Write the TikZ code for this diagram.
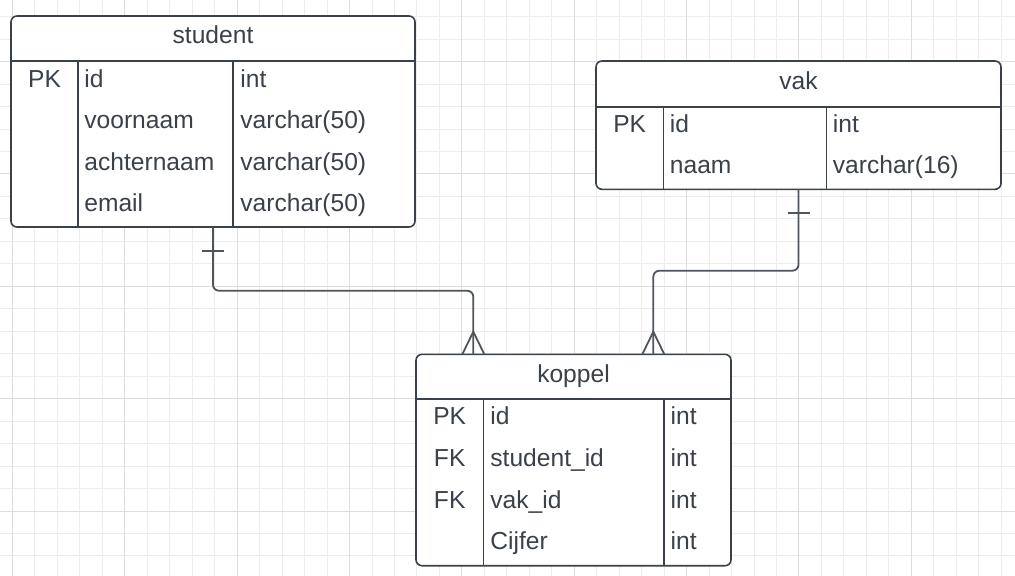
\documentclass[tikz,border=0pt]{standalone}
\usepackage{fontspec}
\setmainfont{Liberation Sans}
\usepackage{xcolor}
\usetikzlibrary{positioning}
\definecolor{ink}{HTML}{3A414A}
\definecolor{wire}{HTML}{4F555D}
\newcommand{\tabfont}{\fontsize{12.3}{14}\selectfont}
\tikzset{%
  entity/.style   = {draw=ink, fill=white, line width=0.8pt, rounded corners=3pt,
    inner sep=0pt, outer sep=0pt},
  divider/.style  = {draw=ink, line width=0.8pt},
  tabhead/.style  = {anchor=base, text=ink, inner sep=0pt, font=\tabfont},
  keycell/.style  = {anchor=base, text=ink, inner sep=0pt, font=\tabfont}, % PK / FK
  field/.style    = {anchor=base west, text=ink, inner sep=0pt, font=\tabfont},
  rel/.style      = {draw=wire, line width=0.9pt, rounded corners=3pt},
  crow/.style     = {draw=wire, line width=0.9pt},
  gridminor/.style = {draw=gray!15, line width=0.5pt},
  gridmajor/.style = {draw=gray!27, line width=0.5pt}
}

\begin{document}
\begin{tikzpicture}[x=0.5pt, y=-0.5pt]

  \useasboundingbox (0,0) rectangle (1015,575);
  \fill[white] (0,0) rectangle (1015,575);

  % background grid
  \begin{scope}
    \clip (0,0) rectangle (1015,575);
    \begin{scope}[shift={(6.25pt,-8.33pt)}]
      \draw[gridminor, step=11.235pt] (-12pt,12pt) grid (512pt,-292pt);
    \end{scope}
    \begin{scope}[shift={(6.25pt,-30.8pt)}]
      \draw[gridmajor, step=56.175pt] (-60pt,60pt) grid (512pt,-292pt);
    \end{scope}
  \end{scope}

  % student
  \draw node at (213,121.5) [entity, minimum width=202pt, minimum height=105.5pt] (student) {};
  \draw[divider] (11,61) -- (415,61);
  \draw[divider] (78,61) -- (78,227);
  \draw[divider] (233,61) -- (233,227);
  \draw node at (213,43.5) [tabhead] (studentT) {student};
  \draw node at (44.5,87.3) [keycell] (studentK1) {PK};
  \draw node at (84,87.3) [field] (studentN1) {id};
  \draw node at (84,128.8) [field] (studentN2) {voornaam};
  \draw node at (84,170.3) [field] (studentN3) {achternaam};
  \draw node at (84,211.8) [field] (studentN4) {email};
  \draw node at (240,87.3) [field] (studentY1) {int};
  \draw node at (240,128.8) [field] (studentY2) {varchar(50)};
  \draw node at (240,170.3) [field] (studentY3) {varchar(50)};
  \draw node at (240,211.8) [field] (studentY4) {varchar(50)};

  % vak
  \draw node at (798.5,125.15) [entity, minimum width=202.5pt, minimum height=64.15pt] (vak) {};
  \draw[divider] (596,106.7) -- (1001,106.7);
  \draw[divider] (663.3,106.7) -- (663.3,189.3);
  \draw[divider] (826.3,106.7) -- (826.3,189.3);
  \draw node at (798.5,89.3) [tabhead] (vakT) {vak};
  \draw node at (629.7,132.3) [keycell] (vakK1) {PK};
  \draw node at (669.5,132.3) [field] (vakN1) {id};
  \draw node at (669.5,173.6) [field] (vakN2) {naam};
  \draw node at (832.5,132.3) [field] (vakY1) {int};
  \draw node at (832.5,173.6) [field] (vakY2) {varchar(16)};

  % koppel
  \draw node at (573.5,460) [entity, minimum width=157.5pt, minimum height=105.7pt] (koppel) {};
  \draw[divider] (416,398.7) -- (731,398.7);
  \draw[divider] (483.3,398.7) -- (483.3,565.7);
  \draw[divider] (663.7,398.7) -- (663.7,565.7);
  \draw node at (573.5,382) [tabhead] (koppelT) {koppel};
  \draw node at (449.7,424.7) [keycell] (koppelK1) {PK};
  \draw node at (449.7,466.4) [keycell] (koppelK2) {FK};
  \draw node at (449.7,508.1) [keycell] (koppelK3) {FK};
  \draw node at (490,424.7) [field] (koppelN1) {id};
  \draw node at (490,466.4) [field] (koppelN2) {student\_id};
  \draw node at (490,508.1) [field] (koppelN3) {vak\_id};
  \draw node at (490,549.9) [field] (koppelN4) {Cijfer};
  \draw node at (670.3,424.7) [field] (koppelY1) {int};
  \draw node at (670.3,466.4) [field] (koppelY2) {int};
  \draw node at (670.3,508.1) [field] (koppelY3) {int};
  \draw node at (670.3,549.9) [field] (koppelY4) {int};

  % relations
  \coordinate (koppelS) at (473.3,354.3);
  \coordinate (koppelV) at (653.3,354.3);
  \draw[rel] (student.south) -- ++(0,63.7) -| (koppelS);
  \draw[rel] (vak.south) -- ++(0,81.4) -| (koppelV);
  \draw[crow] ([xshift=-5.5pt,yshift=-12pt]student.south) -- ++(22,0);
  \draw[crow] ([xshift=-5.5pt,yshift=-11.7pt]vak.south) -- ++(22,0);
  \draw[crow] ([xshift=-5.5pt]koppelS) -- ([yshift=11.3pt]koppelS) -- ([xshift=5.5pt]koppelS);
  \draw[crow] ([xshift=-5.5pt]koppelV) -- ([yshift=11.3pt]koppelV) -- ([xshift=5.5pt]koppelV);

\end{tikzpicture}
\end{document}
